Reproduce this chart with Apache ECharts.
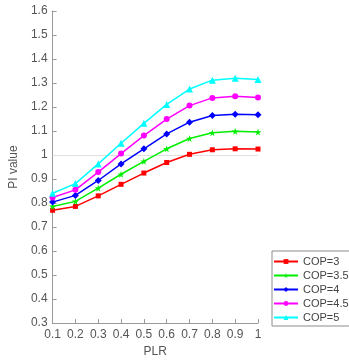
<!DOCTYPE html>
<html><head><meta charset="utf-8">
<script src="https://cdn.jsdelivr.net/npm/echarts@6/dist/echarts.min.js"></script>
<style>html,body{margin:0;padding:0;background:#fff}#c{width:349px;height:363px}</style>
</head><body><div id="c"></div>
<script>
const plr = [0.1,0.2,0.3,0.4,0.5,0.6,0.7,0.8,0.9,1.0];
const cop3  = [0.770,0.786,0.830,0.878,0.925,0.969,1.003,1.022,1.026,1.025];
const cop35 = [0.786,0.807,0.862,0.920,0.974,1.026,1.069,1.093,1.099,1.096];
const cop4  = [0.804,0.832,0.894,0.963,1.026,1.088,1.137,1.165,1.170,1.168];
const cop45 = [0.823,0.855,0.929,1.006,1.081,1.150,1.206,1.238,1.245,1.240];
const cop5  = [0.841,0.881,0.963,1.049,1.132,1.211,1.275,1.312,1.320,1.315];
const names = ['COP=3','COP=3.5','COP=4','COP=4.5','COP=5'];
const colors = ['#ff0000','#00ee00','#0000ff','#ff00ff','#00ffff'];
const star = 'path://M50,0 L61,35 L98,35 L68,57 L79,91 L50,70 L21,91 L32,57 L2,35 L39,35 Z';
const symbols = ['rect', star, 'diamond', 'circle', 'triangle'];
const sizes = [5, 7, 7, 6, 7];
const all = [cop3,cop35,cop4,cop45,cop5];
const txt = '#555';
const series = all.map((d,i)=>({
  name: names[i], type:'line', data: d.map((v,j)=>[plr[j],v]),
  symbol: symbols[i], symbolSize: sizes[i], showSymbol:true,
  lineStyle:{color:colors[i],width:1.5}, itemStyle:{color:colors[i]},
  z: 3,
  markLine: i===0 ? {silent:true, symbol:'none', label:{show:false},
     lineStyle:{color:'#e0e0e0',type:'solid',width:1}, data:[{yAxis:1}], z:1} : undefined
}));
const chart = echarts.init(document.getElementById('c'));
chart.setOption({
  animation:false,
  grid:{left:47, top:11, right:91, bottom:36},
  legend:{orient:'vertical', left:272, top:251, width:80,
    backgroundColor:'#fff', borderColor:'#8c8c8c', borderWidth:1, borderRadius:0,
    padding:[5,8,3,1], itemGap:3, itemWidth:24, itemHeight:6,
    textStyle:{color:'#444', fontSize:11, fontFamily:'Liberation Sans, Arial'},
    data:names},
  xAxis:{type:'value', min:0.1, max:1, interval:0.1, name:'PLR', nameLocation:'middle', nameGap:22,
    nameTextStyle:{color:txt, fontSize:12, fontFamily:'Liberation Sans, Arial'},
    axisLine:{lineStyle:{color:'#999'}}, axisTick:{inside:true, length:4, lineStyle:{color:'#999'}},
    splitLine:{show:false},
    axisLabel:{color:txt, fontSize:12, fontFamily:'Liberation Sans, Arial', margin:6,
      formatter:v=>String(+v.toFixed(1))}},
  yAxis:{type:'value', min:0.3, max:1.6, interval:0.1, name:'PI value', nameLocation:'middle', nameGap:20,
    nameTextStyle:{color:txt, fontSize:12, fontFamily:'Liberation Sans, Arial'},
    axisLine:{show:true, lineStyle:{color:'#999'}}, axisTick:{show:true, inside:true, length:4, lineStyle:{color:'#999'}},
    splitLine:{show:false},
    axisLabel:{color:txt, fontSize:12, fontFamily:'Liberation Sans, Arial', margin:5,
      formatter:v=>String(+v.toFixed(1))}},
  series
});
</script></body></html>
